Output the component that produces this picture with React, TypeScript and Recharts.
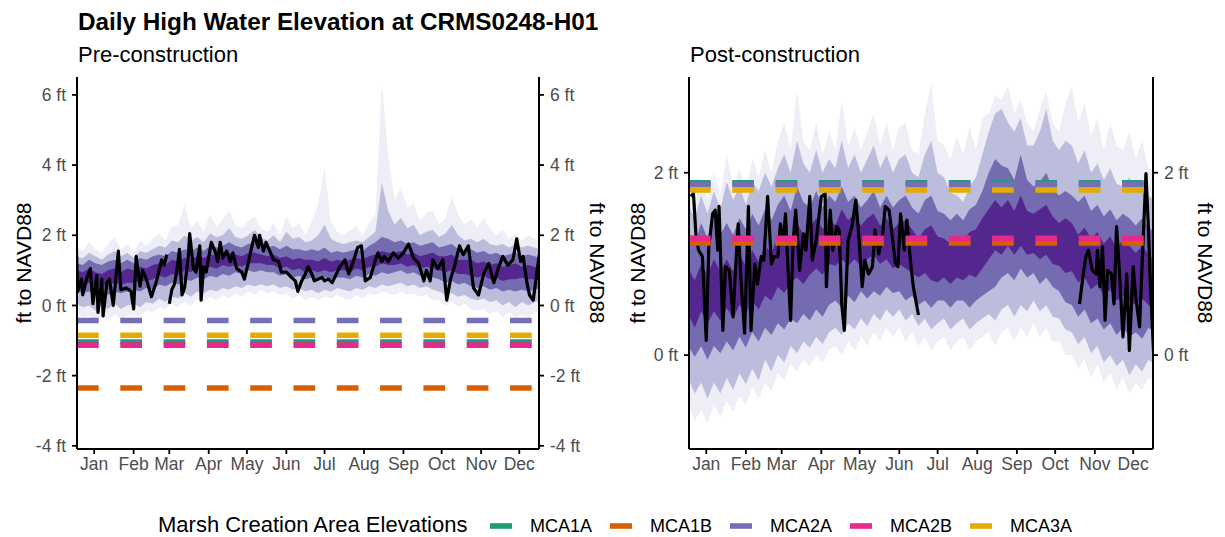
import React from "react";
import { ComposedChart, Area, Line, XAxis, YAxis, ReferenceLine } from "recharts";

const FONT = '"Liberation Sans", Arial, Helvetica, sans-serif';

// x axis: day of year, labelled at mid-month
const MONTHS = ["Jan", "Feb", "Mar", "Apr", "May", "Jun", "Jul", "Aug", "Sep", "Oct", "Nov", "Dec"];
const MONTH_TICKS = [15, 46, 74, 105, 135, 166, 196, 227, 258, 288, 319, 349];

// quantile bands are sampled every 5 days
const BAND_DAYS = Array.from({ length: 74 }, (_, i) => 1 + 5 * i);

// marsh creation area elevations, ft NAVD88
const MCA_NAMES = ["MCA1A", "MCA1B", "MCA2A", "MCA2B", "MCA3A"];
const MCA_COLORS = ["#1B9E77", "#D95F02", "#7570B3", "#E7298A", "#E6AB02"];
const PRE_ELEV = [-1.04, -2.35, -0.43, -1.13, -0.85];
const POST_ELEV = [1.89, 1.23, 1.87, 1.28, 1.81];

// ---- pre-construction ----
const PRE_OUTER_LO = [
  -0.2, -0.35, -0.3, -0.45, -0.3, -0.4, -0.25, -0.4, -0.3, -0.25,
  -0.3, -0.15, -0.2, -0.05, -0.1, 0.05, -0.05, 0.1, 0.0, 0.2,
  0.1, 0.25, 0.15, 0.3, 0.2, 0.35, 0.25, 0.4, 0.3, 0.45,
  0.35, 0.4, 0.3, 0.35, 0.2, 0.3, 0.15, 0.25, 0.15, 0.25,
  0.2, 0.3, 0.2, 0.15, 0.3, 0.2, 0.35, 0.3, 0.4, 0.35,
  0.3, 0.4, 0.3, 0.35, 0.25, 0.3, 0.15, 0.15, 0.0, 0.1,
  -0.05, 0.05, -0.1, -0.15, -0.1, -0.25, -0.15, -0.35, -0.2, -0.35,
  -0.25, -0.35, -0.2, -0.15,
];
const PRE_OUTER_HI = [
  1.7, 1.55, 1.8, 1.6, 1.5, 1.75, 1.95, 1.6, 1.75, 1.5,
  1.85, 1.7, 1.9, 2.05, 1.85, 2.25, 2.3, 2.9, 2.2, 2.4,
  2.1, 2.6, 2.25, 2.45, 2.7, 2.3, 2.2, 2.4, 2.55, 2.2,
  2.1, 2.35, 2.0, 2.55, 2.2, 2.35, 2.0, 2.4, 2.9, 3.9,
  2.4, 2.1, 2.0, 2.15, 2.25, 2.0, 2.35, 2.6, 6.3, 4.3,
  3.0, 3.35, 2.8, 2.9, 2.4, 2.65, 2.7, 2.3, 2.5, 3.1,
  2.6, 2.3, 2.45, 2.2, 2.5, 2.2, 2.0, 2.15, 1.9, 2.05,
  1.85, 2.0, 1.9, 1.8,
];
const PRE_WIDE_LO = [
  0.05, -0.05, 0.0, -0.15, 0.0, -0.1, 0.05, -0.1, 0.0, 0.05,
  -0.05, 0.1, 0.05, 0.2, 0.1, 0.25, 0.2, 0.35, 0.25, 0.4,
  0.35, 0.45, 0.4, 0.5, 0.45, 0.55, 0.5, 0.6, 0.55, 0.6,
  0.55, 0.6, 0.5, 0.55, 0.45, 0.5, 0.4, 0.45, 0.35, 0.45,
  0.4, 0.5, 0.45, 0.4, 0.5, 0.45, 0.55, 0.5, 0.6, 0.55,
  0.6, 0.65, 0.55, 0.6, 0.5, 0.55, 0.45, 0.4, 0.3, 0.35,
  0.25, 0.3, 0.2, 0.15, 0.2, 0.1, 0.15, 0.0, 0.1, -0.05,
  0.1, 0.0, 0.1, 0.15,
];
const PRE_WIDE_HI = [
  1.4, 1.35, 1.5, 1.4, 1.3, 1.45, 1.55, 1.4, 1.5, 1.35,
  1.55, 1.5, 1.6, 1.7, 1.65, 1.85, 1.8, 2.0, 1.85, 1.95,
  1.8, 2.05, 1.95, 2.0, 2.2, 1.95, 1.9, 2.0, 2.15, 1.95,
  1.85, 2.0, 1.8, 2.1, 1.9, 1.95, 1.8, 1.85, 2.0, 2.3,
  1.9, 1.8, 1.75, 1.8, 1.85, 1.8, 1.95, 2.1, 3.5, 2.7,
  2.3, 2.5, 2.2, 2.3, 2.0, 2.1, 2.15, 1.95, 2.05, 2.3,
  2.0, 1.85, 1.9, 1.8, 1.9, 1.75, 1.7, 1.75, 1.65, 1.75,
  1.65, 1.7, 1.65, 1.6,
];
const PRE_MID_LO = [
  0.4, 0.35, 0.4, 0.3, 0.35, 0.3, 0.4, 0.35, 0.4, 0.45,
  0.4, 0.5, 0.45, 0.6, 0.55, 0.65, 0.6, 0.75, 0.7, 0.8,
  0.75, 0.85, 0.8, 0.9, 0.85, 0.95, 0.9, 1.0, 0.95, 1.0,
  0.95, 0.95, 0.85, 0.9, 0.8, 0.85, 0.75, 0.8, 0.7, 0.8,
  0.75, 0.8, 0.8, 0.75, 0.85, 0.8, 0.9, 0.85, 0.95, 0.9,
  0.95, 1.0, 0.9, 0.95, 0.85, 0.9, 0.8, 0.75, 0.65, 0.7,
  0.6, 0.65, 0.55, 0.5, 0.55, 0.45, 0.5, 0.4, 0.45, 0.4,
  0.45, 0.4, 0.45, 0.5,
];
const PRE_MID_HI = [
  1.2, 1.15, 1.3, 1.2, 1.15, 1.25, 1.3, 1.2, 1.3, 1.2,
  1.35, 1.3, 1.4, 1.45, 1.4, 1.55, 1.5, 1.6, 1.55, 1.65,
  1.55, 1.7, 1.65, 1.7, 1.8, 1.7, 1.65, 1.75, 1.8, 1.7,
  1.65, 1.7, 1.6, 1.7, 1.6, 1.6, 1.55, 1.6, 1.55, 1.65,
  1.5, 1.55, 1.5, 1.55, 1.6, 1.55, 1.7, 1.8, 1.95, 1.9,
  1.8, 1.85, 1.75, 1.8, 1.7, 1.75, 1.8, 1.65, 1.7, 1.75,
  1.6, 1.55, 1.6, 1.5, 1.55, 1.45, 1.5, 1.4, 1.45, 1.5,
  1.4, 1.45, 1.4, 1.35,
];
const PRE_INNER_LO = [
  0.6, 0.55, 0.65, 0.55, 0.55, 0.6, 0.65, 0.6, 0.65, 0.65,
  0.7, 0.7, 0.75, 0.85, 0.8, 0.9, 0.85, 1.0, 0.95, 1.05,
  1.0, 1.1, 1.05, 1.15, 1.1, 1.15, 1.1, 1.2, 1.2, 1.2,
  1.15, 1.15, 1.05, 1.1, 1.0, 1.05, 0.95, 1.0, 0.95, 1.0,
  0.95, 1.0, 1.0, 0.95, 1.05, 1.0, 1.1, 1.1, 1.2, 1.15,
  1.15, 1.2, 1.1, 1.15, 1.05, 1.1, 1.05, 1.0, 0.95, 1.0,
  0.9, 0.9, 0.85, 0.8, 0.85, 0.75, 0.8, 0.7, 0.75, 0.75,
  0.8, 0.75, 0.75, 0.7,
];
const PRE_INNER_HI = [
  1.0, 0.95, 1.05, 0.95, 0.9, 1.0, 1.05, 0.95, 1.05, 1.0,
  1.1, 1.05, 1.15, 1.2, 1.15, 1.3, 1.25, 1.35, 1.3, 1.4,
  1.35, 1.45, 1.4, 1.45, 1.5, 1.45, 1.4, 1.5, 1.5, 1.45,
  1.4, 1.45, 1.35, 1.4, 1.3, 1.35, 1.3, 1.3, 1.25, 1.35,
  1.25, 1.3, 1.25, 1.3, 1.35, 1.3, 1.4, 1.45, 1.55, 1.5,
  1.5, 1.55, 1.45, 1.5, 1.4, 1.45, 1.5, 1.4, 1.4, 1.45,
  1.3, 1.3, 1.3, 1.2, 1.25, 1.15, 1.2, 1.1, 1.15, 1.2,
  1.1, 1.15, 1.1, 1.05,
];
// single year of daily highs (null = missing record)
const PRE_OBS_DAY = [
  1, 2, 5, 6, 9, 12, 14, 17, 18, 21, 22, 25, 27, 30, 34, 36, 40, 44, 46, 48,
  51, 53, 56, 60, 64, 68, 70, 72, 73, 74, 76, 78, 80, 82, 84, 86, 89, 90, 93, 95,
  98, 99, 101, 103, 107, 110, 112, 114, 116, 119, 122, 124, 127, 131, 133, 136, 139, 141, 144, 145,
  148, 150, 153, 156, 160, 162, 166, 170, 173, 175, 178, 181, 183, 186, 188, 191, 194, 196, 199, 202,
  204, 208, 212, 215, 219, 222, 225, 228, 232, 236, 238, 241, 243, 246, 250, 254, 258, 262, 266, 270,
  274, 276, 279, 281, 285, 289, 292, 295, 298, 302, 305, 309, 313, 317, 321, 325, 329, 333, 336, 340,
  344, 347, 350, 352, 355, 357, 360, 363, 365,
];
const PRE_OBS_FT = [
  1.65, 0.4, 0.75, 0.3, 0.75, 1.05, 0.05, 0.85, -0.2, 0.75, -0.3, 0.65, 0.75, 0.0, 1.55, 0.45, 0.5, 0.4, -0.1, 1.4,
  0.55, 1.0, 0.75, 0.25, 0.7, 1.3, 1.15, 1.45, null, 0.05, 0.45, 0.6, 1.0, 1.6, 0.3, 0.5, 1.4, 2.05, 1.05, 0.95,
  1.7, 0.15, 1.1, 0.95, 1.8, 1.55, 1.25, 1.8, 1.35, 1.55, 1.25, 1.5, 1.05, 0.95, 0.75, 1.2, 1.7, 2.0, 1.65, 2.0,
  1.55, 1.8, 1.55, 1.3, 1.25, 0.95, 0.95, 0.8, 0.7, 0.4, 0.7, 0.9, 1.1, 0.9, 0.7, 0.75, 0.8, 0.7, 0.75, 0.65,
  0.8, 1.1, 1.3, 0.9, 1.3, 1.65, 1.7, 0.7, 0.8, 1.3, 1.5, 1.25, 1.4, 1.25, 1.5, 1.35, 1.5, 1.75, 1.35, 1.2,
  0.7, 1.0, 0.7, 1.3, 1.05, 1.3, 0.15, 0.75, 1.1, 1.7, 1.45, 1.7, 0.5, 0.3, 0.9, 1.2, 0.65, 1.1, 1.4, 1.15,
  1.3, 1.9, 1.25, 1.4, 0.65, 0.3, 0.15, 1.0, 1.5,
];

// ---- post-construction ----
const POST_OUTER_LO = [
  -0.55, -0.72, -0.6, -0.75, -0.55, -0.68, -0.5, -0.62, -0.45, -0.55,
  -0.35, -0.48, -0.3, -0.4, -0.2, -0.28, -0.1, -0.18, -0.05, -0.12,
  0.0, -0.08, 0.05, 0.1, 0.0, 0.15, 0.05, 0.2, 0.1, 0.25,
  0.15, 0.3, 0.2, 0.3, 0.15, 0.25, 0.1, 0.2, 0.05, 0.15,
  0.2, 0.05, 0.15, 0.2, 0.05, 0.15, 0.2, 0.25, 0.1, 0.25,
  0.3, 0.15, 0.3, 0.2, 0.35, 0.2, 0.3, 0.15, 0.15, 0.0,
  0.0, -0.15, -0.05, -0.25, -0.1, -0.3, -0.2, -0.38, -0.25, -0.42,
  -0.3, -0.38, -0.25, -0.3,
];
const POST_OUTER_HI = [
  1.85, 1.65, 1.95, 1.7, 2.0, 1.75, 2.2, 1.85, 2.05, 1.8,
  2.15, 1.95, 2.25, 2.0, 2.35, 2.55, 2.25, 2.9, 2.35, 2.25,
  2.55, 2.2, 2.45, 2.25, 2.8, 2.3, 2.5, 2.25, 2.45, 2.65,
  2.3, 2.55, 2.25, 2.5, 2.55, 2.25, 2.2, 2.65, 2.98, 2.35,
  2.3, 2.15, 2.4, 2.2, 2.5, 2.25, 2.6, 2.65, 2.85, 2.8,
  2.95, 2.65, 2.8, 2.55, 2.45, 2.7, 2.9, 2.55, 2.45, 2.75,
  2.95, 2.55, 2.75, 2.4, 2.6, 2.25, 2.55, 2.3, 2.25, 2.45,
  2.15, 2.35, 2.05, 2.0,
];
const POST_WIDE_LO = [
  -0.25, -0.42, -0.3, -0.48, -0.3, -0.42, -0.25, -0.38, -0.2, -0.32,
  -0.15, -0.28, -0.05, -0.18, 0.0, -0.08, 0.1, 0.02, 0.15, 0.08,
  0.2, 0.12, 0.25, 0.3, 0.22, 0.35, 0.28, 0.4, 0.32, 0.45,
  0.38, 0.5, 0.42, 0.5, 0.38, 0.45, 0.32, 0.4, 0.28, 0.35,
  0.4, 0.28, 0.35, 0.4, 0.28, 0.35, 0.4, 0.45, 0.38, 0.5,
  0.55, 0.42, 0.55, 0.48, 0.6, 0.48, 0.55, 0.42, 0.4, 0.28,
  0.25, 0.12, 0.2, 0.02, 0.1, -0.08, 0.0, -0.12, -0.05, -0.22,
  -0.1, -0.18, -0.05, -0.1,
];
const POST_WIDE_HI = [
  1.65, 1.5, 1.75, 1.55, 1.8, 1.6, 1.9, 1.7, 1.85, 1.65,
  1.9, 1.8, 2.0, 1.85, 2.05, 2.2, 2.0, 2.35, 2.1, 2.0,
  2.25, 2.0, 2.15, 2.05, 2.35, 2.05, 2.2, 2.0, 2.15, 2.3,
  2.05, 2.2, 2.0, 2.15, 2.2, 2.0, 1.95, 2.2, 2.35, 2.0,
  1.95, 1.78, 1.75, 1.68, 1.85, 1.95, 2.2, 2.45, 2.65, 2.7,
  2.55, 2.45, 2.6, 2.3, 2.3, 2.45, 2.7, 2.35, 2.25, 2.35,
  2.3, 2.1, 2.25, 2.0, 2.1, 1.92, 2.05, 1.88, 1.85, 1.95,
  1.8, 1.85, 1.75, 1.7,
];
const POST_MID_LO = [
  0.1, -0.02, 0.1, -0.05, 0.1, 0.02, 0.15, 0.05, 0.2, 0.08,
  0.25, 0.15, 0.3, 0.22, 0.35, 0.28, 0.4, 0.35, 0.45, 0.38,
  0.5, 0.42, 0.55, 0.6, 0.52, 0.65, 0.58, 0.7, 0.62, 0.7,
  0.65, 0.75, 0.68, 0.7, 0.6, 0.65, 0.55, 0.6, 0.52, 0.6,
  0.6, 0.52, 0.6, 0.6, 0.52, 0.6, 0.65, 0.7, 0.75, 0.85,
  0.9, 0.82, 0.95, 0.85, 0.9, 0.78, 0.85, 0.75, 0.7, 0.58,
  0.55, 0.42, 0.5, 0.35, 0.4, 0.28, 0.35, 0.22, 0.3, 0.2,
  0.25, 0.18, 0.3, 0.25,
];
const POST_MID_HI = [
  1.35, 1.22, 1.45, 1.28, 1.5, 1.32, 1.45, 1.32, 1.5, 1.38,
  1.55, 1.42, 1.6, 1.48, 1.65, 1.75, 1.58, 1.85, 1.68, 1.62,
  1.8, 1.62, 1.75, 1.68, 1.85, 1.68, 1.75, 1.62, 1.7, 1.8,
  1.62, 1.75, 1.62, 1.7, 1.75, 1.62, 1.55, 1.7, 1.75, 1.58,
  1.55, 1.48, 1.55, 1.48, 1.6, 1.65, 1.8, 2.0, 2.15, 2.08,
  2.05, 1.92, 2.2, 1.92, 1.85, 1.9, 2.0, 1.82, 1.75, 1.8,
  1.75, 1.68, 1.75, 1.58, 1.65, 1.52, 1.6, 1.48, 1.55, 1.5,
  1.42, 1.5, 1.4, 1.35,
];
const POST_INNER_LO = [
  0.45, 0.3, 0.48, 0.35, 0.48, 0.38, 0.52, 0.4, 0.55, 0.45,
  0.6, 0.5, 0.65, 0.6, 0.75, 0.68, 0.8, 0.85, 0.78, 0.88,
  0.95, 0.88, 1.0, 0.98, 1.05, 0.98, 1.05, 0.98, 1.05, 1.1,
  1.0, 1.05, 0.95, 1.0, 0.95, 0.9, 0.85, 0.9, 0.82, 0.8,
  0.85, 0.78, 0.85, 0.82, 0.88, 0.85, 0.95, 1.05, 1.15, 1.1,
  1.2, 1.1, 1.2, 1.1, 1.12, 1.05, 1.1, 1.0, 0.98, 0.9,
  0.92, 0.8, 0.85, 0.72, 0.78, 0.65, 0.72, 0.6, 0.65, 0.6,
  0.55, 0.62, 0.55, 0.5,
];
const POST_INNER_HI = [
  0.95, 0.82, 1.0, 0.88, 1.05, 0.92, 1.05, 0.92, 1.1, 0.98,
  1.15, 1.02, 1.2, 1.12, 1.3, 1.35, 1.22, 1.45, 1.32, 1.4,
  1.5, 1.38, 1.5, 1.42, 1.6, 1.48, 1.55, 1.42, 1.5, 1.55,
  1.42, 1.5, 1.38, 1.45, 1.48, 1.38, 1.28, 1.38, 1.42, 1.3,
  1.28, 1.22, 1.3, 1.25, 1.35, 1.38, 1.5, 1.6, 1.7, 1.62,
  1.7, 1.58, 1.75, 1.58, 1.55, 1.6, 1.65, 1.52, 1.45, 1.5,
  1.45, 1.32, 1.4, 1.28, 1.35, 1.22, 1.3, 1.18, 1.25, 1.2,
  1.12, 1.2, 1.1, 1.05,
];
const POST_OBS_DAY = [
  3, 5, 7, 9, 12, 15, 17, 20, 22, 24, 25, 28, 30, 33, 36, 38, 40, 42, 45, 48,
  50, 53, 55, 58, 60, 63, 66, 68, 71, 73, 75, 77, 79, 81, 83, 85, 88, 91, 93, 96,
  98, 101, 105, 108, 109, 112, 114, 117, 119, 121, 123, 126, 129, 132, 134, 137, 139, 142, 145, 147,
  150, 153, 155, 158, 160, 163, 165, 167, 170, 172, 175, 177, 181, 182,
  307, 310, 312, 314, 317, 320, 321, 323, 325, 327, 329, 332, 334, 336, 338, 341, 344, 346, 349, 351,
  354, 356, 359, 361, 362, 365,
];
const POST_OBS_FT = [
  1.74, 1.77, 1.3, 1.15, 1.08, 0.16, 1.19, 1.55, 1.59, 1.15, 1.63, 0.27, 0.97, 0.93, 0.42, 0.97, 1.44, 0.86, 0.24, 1.63,
  0.27, 1.0, 0.78, 1.08, 1.04, 1.74, 1.0, 1.08, 1.08, 1.44, 1.22, 1.55, 0.93, 0.38, 1.26, 1.59, 0.93, 1.33, 1.15, 1.74,
  1.04, 1.26, 1.74, 1.77, 0.75, 1.59, 1.15, 1.41, 1.37, 0.56, 0.27, 1.26, 1.41, 1.7, 1.37, 0.75, 1.04, 0.89, 0.97, 1.37,
  1.11, 1.33, 1.63, 1.59, 1.37, 1.0, 0.97, 1.55, 1.15, 1.48, 1.0, 0.75, 0.44, null,
  0.56, 0.89, 1.08, 1.15, 0.93, 0.89, 1.15, 0.75, 1.19, 0.38, 0.93, 0.89, 0.56, 1.41, 0.97, 0.2, 0.89, 0.05, 0.97, 0.64,
  0.31, 1.0, 1.99, 1.37, 0.93, 0.01,
];

const BAND_FILLS = ["#EFEDF5", "#BCBDDC", "#756BB1", "#54278F"];

function bandRows(key: string, lo: number[], hi: number[]) {
  return BAND_DAYS.map((day, i) => ({ day, [key]: [lo[i], hi[i]] }));
}

function obsRows(days: number[], ft: (number | null)[]) {
  return days.map((day, i) => ({ day, ft: ft[i] }));
}

const PRE_BANDS = [
  { key: "outer", rows: bandRows("outer", PRE_OUTER_LO, PRE_OUTER_HI) },
  { key: "wide", rows: bandRows("wide", PRE_WIDE_LO, PRE_WIDE_HI) },
  { key: "mid", rows: bandRows("mid", PRE_MID_LO, PRE_MID_HI) },
  { key: "inner", rows: bandRows("inner", PRE_INNER_LO, PRE_INNER_HI) },
];
const POST_BANDS = [
  { key: "outer", rows: bandRows("outer", POST_OUTER_LO, POST_OUTER_HI) },
  { key: "wide", rows: bandRows("wide", POST_WIDE_LO, POST_WIDE_HI) },
  { key: "mid", rows: bandRows("mid", POST_MID_LO, POST_MID_HI) },
  { key: "inner", rows: bandRows("inner", POST_INNER_LO, POST_INNER_HI) },
];

type PanelProps = {
  left: number;
  width: number;
  axisLeft: number;
  axisRight: number;
  top: number;
  bottom: number;
  domain: [number, number];
  ticks: number[];
  bands: { key: string; rows: any[] }[];
  obs: any[];
  elev: number[];
};

const TICK_STYLE = { fill: "#4D4D4D", fontSize: 17.5, fontFamily: FONT };
const AXIS_LINE = { stroke: "#000", strokeWidth: 2 };
const TICK_LINE = { stroke: "#000", strokeWidth: 1.8 };

function Panel(p: PanelProps) {
  const yCommon = {
    type: "number" as const,
    domain: p.domain,
    ticks: p.ticks,
    allowDataOverflow: true,
    interval: 0 as const,
    tickFormatter: (v: number) => `${v} ft`,
    tick: TICK_STYLE,
    axisLine: AXIS_LINE,
    tickLine: TICK_LINE,
    tickSize: 5,
    tickMargin: 6,
  };
  return (
    <div style={{ position: "absolute", left: p.left, top: 0 }}>
      <ComposedChart width={p.width} height={537} margin={{ top: p.top, right: 0, bottom: 0, left: 0 }}>
        <XAxis
          type="number"
          dataKey="day"
          domain={[1.5, 364.5]}
          allowDataOverflow
          ticks={MONTH_TICKS}
          interval={0}
          tickFormatter={(v: number) => MONTHS[MONTH_TICKS.indexOf(v)]}
          height={537 - p.bottom}
          tick={TICK_STYLE}
          axisLine={AXIS_LINE}
          tickLine={TICK_LINE}
          tickSize={5}
          tickMargin={4}
        />
        <YAxis yAxisId="l" orientation="left" width={p.axisLeft - p.left} {...yCommon} />
        <YAxis yAxisId="r" orientation="right" width={p.left + p.width - p.axisRight} {...yCommon} />
        {p.bands.map((b, i) => (
          <Area
            key={b.key}
            yAxisId="l"
            data={b.rows}
            dataKey={b.key}
            type="linear"
            stroke="none"
            fill={BAND_FILLS[i]}
            fillOpacity={1}
            dot={false}
            activeDot={false}
            isAnimationActive={false}
          />
        ))}
        <Line
          yAxisId="l"
          data={p.obs}
          dataKey="ft"
          type="linear"
          stroke="#000"
          strokeWidth={3.2}
          strokeLinejoin="round"
          dot={false}
          activeDot={false}
          connectNulls={false}
          isAnimationActive={false}
        />
        {MCA_NAMES.map((name, i) => (
          <ReferenceLine
            key={name}
            yAxisId="l"
            y={p.elev[i]}
            stroke={MCA_COLORS[i]}
            strokeWidth={5.6}
            strokeDasharray="21.7 21.6"
          />
        ))}
      </ComposedChart>
    </div>
  );
}

export default function App() {
  return (
    <div style={{ position: "absolute", left: 0, top: 0, width: 1225, height: 537, background: "#fff", fontFamily: FONT }}>
      <Panel
        left={0}
        width={620}
        axisLeft={77}
        axisRight={539}
        top={77}
        bottom={449}
        domain={[-4.09, 6.51]}
        ticks={[-4, -2, 0, 2, 4, 6]}
        bands={PRE_BANDS}
        obs={obsRows(PRE_OBS_DAY, PRE_OBS_FT)}
        elev={PRE_ELEV}
      />
      <Panel
        left={612}
        width={613}
        axisLeft={689}
        axisRight={1153}
        top={77}
        bottom={449}
        domain={[-1.03, 3.05]}
        ticks={[0, 2]}
        bands={POST_BANDS}
        obs={obsRows(POST_OBS_DAY, POST_OBS_FT)}
        elev={POST_ELEV}
      />
      <svg width={1225} height={537} style={{ position: "absolute", left: 0, top: 0, pointerEvents: "none" }}>
        <text x={78} y={30} fontSize={24.3} fontWeight="bold" fill="#000">
          Daily High Water Elevation at CRMS0248-H01
        </text>
        <text x={78} y={62} fontSize={22} fill="#000">Pre-construction</text>
        <text x={690} y={62} fontSize={22} fill="#000">Post-construction</text>
        <text transform="translate(23,263) rotate(-90)" textAnchor="middle" dominantBaseline="central" fontSize={21}>
          ft to NAVD88
        </text>
        <text transform="translate(597,263) rotate(90)" textAnchor="middle" dominantBaseline="central" fontSize={21}>
          ft to NAVD88
        </text>
        <text transform="translate(637,263) rotate(-90)" textAnchor="middle" dominantBaseline="central" fontSize={21}>
          ft to NAVD88
        </text>
        <text transform="translate(1205,263) rotate(90)" textAnchor="middle" dominantBaseline="central" fontSize={21}>
          ft to NAVD88
        </text>
        <text x={158} y={532} fontSize={22} fill="#000">Marsh Creation Area Elevations</text>
        {MCA_NAMES.map((name, i) => (
          <g key={name}>
            <line x1={490 + i * 120} x2={512 + i * 120} y1={526} y2={526} stroke={MCA_COLORS[i]} strokeWidth={5.6} />
            <text x={530 + i * 120} y={532} fontSize={18} fill="#000">{name}</text>
          </g>
        ))}
      </svg>
    </div>
  );
}
